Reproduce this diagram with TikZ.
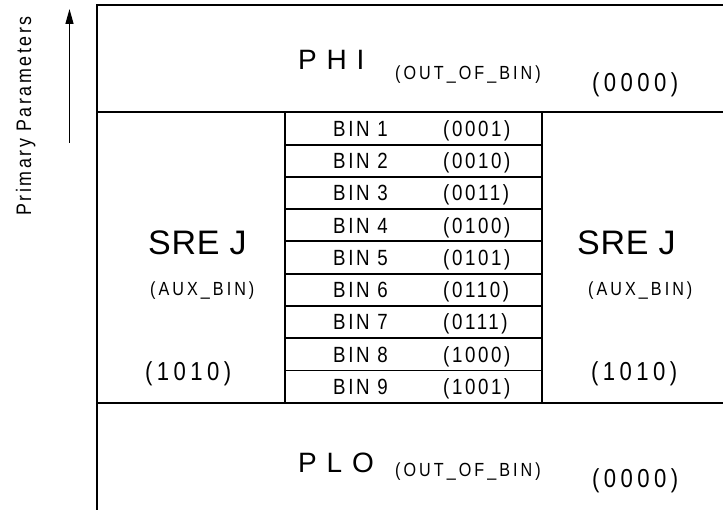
\documentclass[tikz,border=0pt]{standalone}
\usepackage{fontspec}
\setmainfont{Liberation Sans}
\newfontfamily\frow[FakeStretch=0.85,LetterSpace=12]{Liberation Sans}
\newfontfamily\fmid[FakeStretch=0.85,LetterSpace=16]{Liberation Sans}
\newfontfamily\fcode[FakeStretch=0.85,LetterSpace=17]{Liberation Sans}
\newfontfamily\fsre[LetterSpace=2]{Liberation Sans}
\newfontfamily\fbig[LetterSpace=35]{Liberation Sans}
\usetikzlibrary{arrows.meta}
\tikzset{
  lbl/.style={inner sep=0pt, anchor=base west},
  framel/.style={line width=2.3pt, line cap=rect},
  gridl/.style={line width=1.9pt},
  rowfont/.style={font=\frow\fontsize{22}{22}\selectfont},
  midfont/.style={font=\fmid\fontsize{19}{20}\selectfont},
  codefont/.style={font=\fcode\fontsize{26}{26}\selectfont},
  srefont/.style={font=\fsre\fontsize{34}{34}\selectfont},
  bigfont/.style={font=\fbig\fontsize{28}{28}\selectfont},
}
\begin{document}
\begin{tikzpicture}[x=1pt,y=-1pt]
\useasboundingbox (0,0) rectangle (723,510);
% frame coordinates
\coordinate (ftl) at (97,5);
\coordinate (ftr) at (723,5);
\coordinate (fbl) at (97,510);
\coordinate (ml) at (97,112.3);
\coordinate (mr) at (723,112.3);
\coordinate (bl) at (97,402.7);
\coordinate (br) at (723,402.7);
\coordinate (ttl) at (285,112.3);
\coordinate (ttr) at (541.7,112.3);
\coordinate (tbl) at (285,402.7);
\coordinate (tbr) at (541.7,402.7);
\draw[framel] (ftr) -- (ftl) -- (fbl);
\draw[gridl] (ml) -- (mr);
\draw[gridl] (bl) -- (br);
\draw[gridl] (ttl) -- (tbl);
\draw[gridl] (ttr) -- (tbr);
\foreach \k in {1,...,8}{
  \coordinate (rl\k) at (285,{112.3+32.27*\k});
  \coordinate (rr\k) at (541.7,{112.3+32.27*\k});
  \draw[gridl] (rl\k) -- (rr\k);
}
\foreach \k/\c in {1/0001,2/0010,3/0011,4/0100,5/0101,6/0110,7/0111,8/1000,9/1001}{
  \node[lbl,rowfont] (bin\k) at (333,{112.3+32.27*(\k-0.5)+7.8}) {BIN \k};
  \node[lbl,rowfont] (code\k) at (443,{112.3+32.27*(\k-0.5)+7.8}) {(\c)};
}
% top region
\node[lbl,bigfont] (phi) at (298,70) {PHI};
\node[lbl,midfont] (phiout) at (395,79.5) {(OUT\_OF\_BIN)};
\node[lbl,codefont] (phicode) at (592,92) {(0000)};
% bottom region
\node[lbl,bigfont] (plo) at (298,472) {PLO};
\node[lbl,midfont] (ploout) at (395,476) {(OUT\_OF\_BIN)};
\node[lbl,codefont] (plocode) at (592,487) {(0000)};
% left side
\node[lbl,srefont] (srel) at (148,255) {SRE J};
\node[lbl,midfont] (auxl) at (150,296) {(AUX\_BIN)};
\node[lbl,codefont] (codel) at (145,381) {(1010)};
% right side
\node[lbl,srefont] (srer) at (577,255) {SRE J};
\node[lbl,midfont] (auxr) at (588,296) {(AUX\_BIN)};
\node[lbl,codefont] (coder) at (591,381) {(1010)};
% axis arrow and label
\coordinate (arrb) at (69.5,143);
\coordinate (arrt) at (69.5,9);
\draw[line width=1.3pt,-{Triangle[width=8pt,length=15pt]}] (arrb) -- (arrt);
\node[inner sep=0pt, anchor=base, rotate=90, font=\frow\fontsize{21}{21}\selectfont] (pp) at (31,116) {Primary Parameters};
\end{tikzpicture}
\end{document}
